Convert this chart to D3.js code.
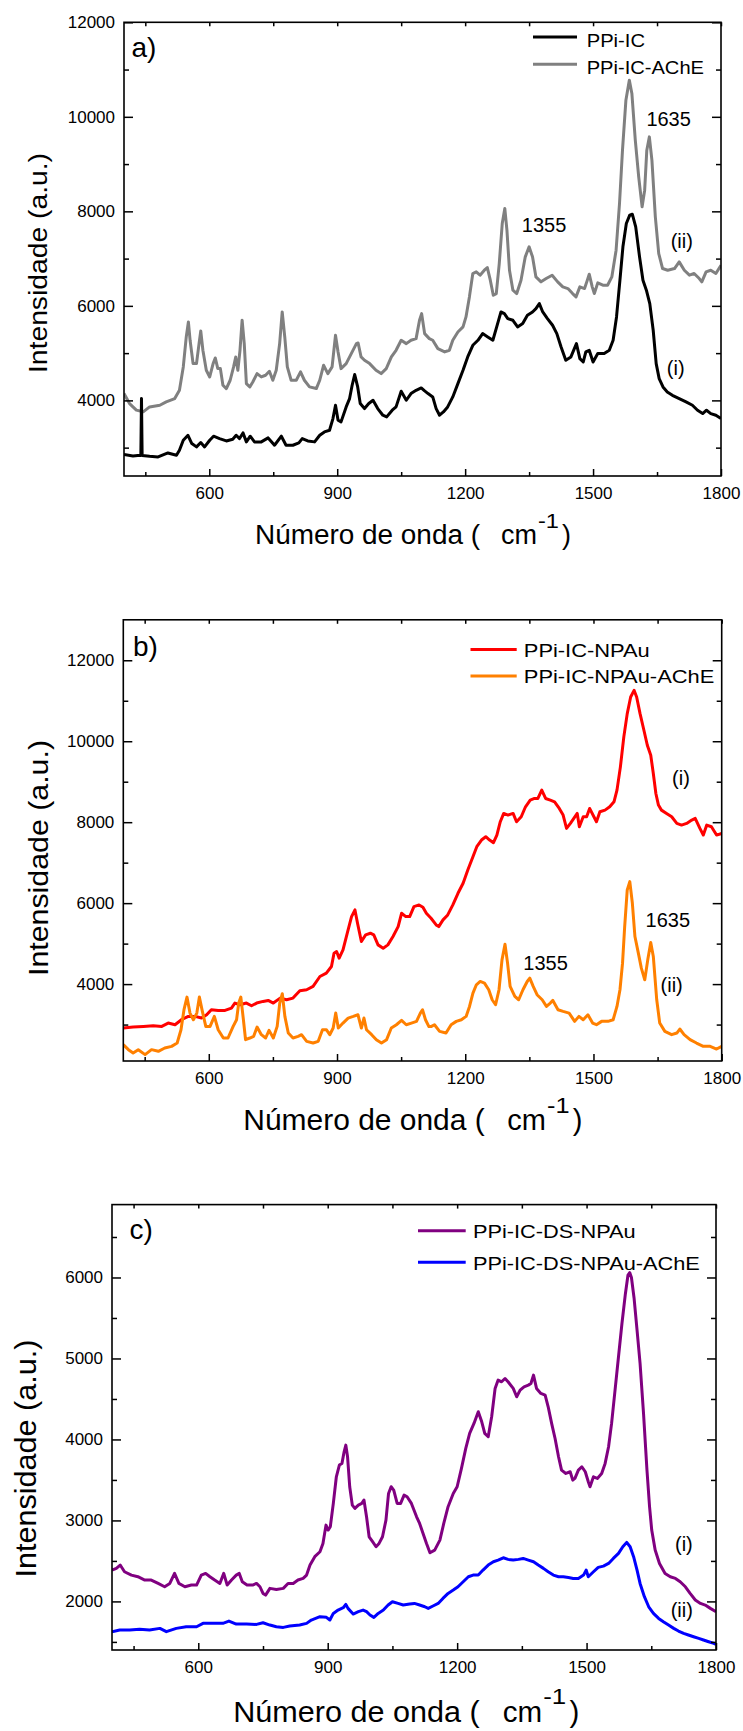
<!DOCTYPE html>
<html>
<head>
<meta charset="utf-8">
<script src="https://cdn.jsdelivr.net/npm/d3@7"></script>
<style>
  body { margin: 0; background: #fff; }
  text { font-family: "Liberation Sans", Arial, sans-serif; fill: #000; }
</style>
</head>
<body>
<div id="chart"></div>
<script>
// ---- tick labels ----
const waveTicks = [600, 900, 1200, 1500, 1800];
const waveMinor = [450, 750, 1050, 1350, 1650];
const yTicksA = [4000, 6000, 8000, 10000, 12000];
const yMinorA = [3000, 5000, 7000, 9000, 11000];
const yTicksB = [4000, 6000, 8000, 10000, 12000];
const yMinorB = [3000, 5000, 7000, 9000, 11000];
const yTicksC = [2000, 3000, 4000, 5000, 6000];
const yMinorC = [1500, 2500, 3500, 4500, 5500, 6500];

// ---- spectra [numero de onda, intensidade] ----
const ppiIC = [[400,2853],[421,2825],[438,2839],[439.5,2835],[441,4040],[442.5,2835],[460,2818],[480,2804],[503,2888],[523,2839],[530,2945],[539,3157],[550,3262],[559,3086],[570,3016],[580,3108],[589,3016],[601,3157],[610,3242],[624,3192],[640,3142],[655,3178],[663,3262],[671,3192],[679,3312],[687,3122],[696,3242],[706,3122],[722,3122],[738,3206],[753,3051],[769,3242],[780,3051],[796,3051],[810,3100],[818,3192],[831,3142],[847,3122],[859,3262],[870,3333],[882,3368],[890,3615],[896,3897],[902,3580],[909,3545],[921,3862],[929,4038],[935,4320],[941,4546],[948,4285],[954,3933],[964,3827],[974,3933],[984,4003],[995,3827],[1007,3686],[1016,3651],[1029,3792],[1038,3862],[1050,4193],[1062,4003],[1073,4144],[1085,4214],[1097,4264],[1105,4200],[1113,4144],[1124,4073],[1132,3827],[1140,3686],[1149,3756],[1159,3862],[1171,4073],[1183,4355],[1195,4637],[1206,4919],[1218,5166],[1230,5272],[1241,5413],[1253,5343],[1265,5272],[1274,5554],[1284,5871],[1292,5836],[1300,5730],[1312,5695],[1323,5554],[1335,5625],[1346,5800],[1358,5871],[1366,5942],[1374,6048],[1382,5871],[1393,5730],[1405,5589],[1415,5413],[1425,5131],[1436,4849],[1448,4919],[1461,5201],[1469,4884],[1477,4813],[1483,5025],[1491,5060],[1500,4813],[1511,4990],[1526,4990],[1538,5060],[1547,5272],[1555,5766],[1563,6543],[1570,7249],[1578,7742],[1586,7919],[1592,7940],[1600,7672],[1609,7037],[1617,6543],[1625,6331],[1633,6048],[1641,5484],[1648,4778],[1655,4461],[1664,4285],[1674,4179],[1686,4108],[1702,4038],[1718,3968],[1733,3897],[1745,3792],[1757,3721],[1766,3792],[1776,3721],[1788,3686],[1800,3615]];

const ppiICAChE = [[400,4144],[413,3933],[429,3794],[445,3758],[460,3862],[484,3897],[499,3968],[519,4038],[530,4214],[539,4708],[546,5343],[551,5660],[555,5272],[562,4778],[570,4778],[576,5201],[580,5470],[585,5060],[593,4637],[601,4496],[609,4778],[614,4898],[620,4672],[626,4672],[632,4320],[640,4250],[649,4426],[657,4708],[662,4919],[667,4637],[672,5060],[677,5697],[682,5201],[687,4355],[695,4285],[702,4390],[712,4567],[722,4496],[732,4532],[741,4616],[749,4426],[757,4637],[765,5201],[771,5871],[777,5343],[783,4708],[792,4426],[804,4426],[814,4602],[823,4426],[835,4285],[851,4250],[859,4426],[868,4743],[878,4567],[888,4708],[896,5378],[902,5025],[909,4672],[921,4778],[933,4990],[945,5201],[949,5215],[956,4919],[964,4849],[976,4778],[991,4637],[1003,4567],[1015,4672],[1027,4919],[1038,5060],[1050,5272],[1062,5201],[1073,5272],[1085,5307],[1093,5697],[1098,5836],[1105,5413],[1116,5307],[1124,5272],[1136,5095],[1152,5025],[1163,5060],[1171,5272],[1183,5448],[1195,5554],[1202,5766],[1210,6190],[1218,6684],[1226,6719],[1235,6649],[1245,6754],[1252,6811],[1259,6543],[1266,6225],[1273,6260],[1280,6895],[1287,7742],[1293,8060],[1298,7601],[1304,6754],[1312,6331],[1321,6260],[1331,6543],[1341,7037],[1350,7249],[1358,7037],[1366,6613],[1378,6508],[1390,6578],[1404,6649],[1417,6508],[1429,6402],[1441,6366],[1452,6260],[1460,6190],[1469,6402],[1480,6366],[1486,6529],[1491,6670],[1498,6402],[1503,6260],[1511,6487],[1523,6437],[1534,6437],[1544,6613],[1554,7178],[1562,8166],[1569,9294],[1577,10353],[1585,10776],[1591,10494],[1599,9506],[1607,8730],[1615,8095],[1621,8448],[1626,9294],[1632,9576],[1638,9082],[1646,7883],[1654,7107],[1663,6790],[1675,6754],[1691,6790],[1702,6931],[1714,6754],[1726,6649],[1737,6684],[1749,6578],[1755,6508],[1765,6719],[1776,6754],[1788,6684],[1800,6860]];

const ppiICNPAu = [[400,2914],[423,2939],[447,2955],[470,2972],[490,2955],[505,3037],[521,2996],[536,3120],[552,3202],[568,3202],[583,3161],[595,3243],[606,3367],[622,3350],[638,3350],[653,3408],[661,3531],[673,3490],[688,3531],[700,3465],[712,3531],[727,3572],[739,3597],[751,3531],[767,3654],[782,3613],[797,3654],[813,3835],[829,3860],[844,3942],[860,4188],[875,4271],[887,4435],[893,4764],[899,4805],[905,4641],[914,4846],[924,5257],[934,5668],[942,5832],[948,5504],[957,5052],[967,5216],[978,5257],[986,5216],[996,4969],[1008,4887],[1019,4969],[1031,5175],[1043,5421],[1051,5750],[1061,5668],[1070,5668],[1080,5915],[1092,5956],[1101,5900],[1109,5750],[1120,5627],[1132,5463],[1138,5421],[1148,5586],[1159,5709],[1171,5956],[1183,6243],[1195,6490],[1206,6819],[1218,7148],[1227,7394],[1238,7559],[1248,7641],[1257,7559],[1266,7493],[1274,7682],[1282,8011],[1290,8216],[1300,8175],[1312,8216],[1320,8011],[1331,8134],[1341,8381],[1352,8545],[1362,8586],[1370,8586],[1379,8792],[1388,8586],[1399,8545],[1409,8504],[1420,8340],[1429,8175],[1437,7846],[1446,7970],[1454,8093],[1462,8216],[1467,7887],[1476,8134],[1484,8134],[1491,8340],[1501,8134],[1507,8011],[1515,8257],[1527,8298],[1538,8381],[1548,8504],[1555,8792],[1563,9367],[1571,10107],[1579,10682],[1587,11093],[1595,11258],[1601,11093],[1609,10682],[1618,10271],[1626,9901],[1634,9655],[1640,9203],[1646,8709],[1652,8422],[1659,8298],[1671,8216],[1683,8134],[1695,7970],[1706,7928],[1718,7970],[1730,8052],[1738,8093],[1749,7846],[1757,7682],[1765,7928],[1776,7887],[1788,7682],[1800,7723]];

const ppiICNPAuAChE = [[400,2503],[412,2380],[423,2298],[435,2380],[451,2257],[466,2380],[482,2339],[497,2421],[513,2462],[526,2544],[535,2873],[542,3367],[549,3679],[556,3284],[564,3120],[572,3284],[578,3679],[585,3325],[593,2955],[603,2955],[613,3202],[622,2873],[634,2668],[645,2668],[657,2955],[665,3120],[670,3531],[675,3679],[681,3120],[686,2627],[696,2668],[705,2709],[713,2939],[723,2750],[733,2668],[741,2857],[751,2668],[760,2955],[766,3531],[772,3761],[778,3202],[786,2791],[797,2668],[809,2709],[817,2750],[829,2586],[844,2544],[856,2586],[866,2873],[875,2873],[883,2750],[891,2914],[897,3284],[903,2914],[914,3037],[926,3161],[938,3202],[949,3243],[957,2914],[963,3161],[969,2873],[981,2750],[992,2627],[1004,2544],[1016,2627],[1027,2914],[1039,2996],[1051,3103],[1062,2996],[1074,3037],[1086,3079],[1095,3284],[1100,3367],[1107,3120],[1115,2950],[1121,2955],[1128,2996],[1140,2832],[1155,2791],[1167,2996],[1179,3079],[1191,3120],[1202,3202],[1210,3449],[1218,3777],[1226,3983],[1235,4065],[1245,4024],[1255,3860],[1263,3613],[1271,3490],[1279,3860],[1286,4599],[1293,4986],[1299,4517],[1305,3942],[1316,3695],[1325,3613],[1335,3860],[1345,4065],[1351,4147],[1359,3942],[1368,3737],[1380,3613],[1390,3449],[1399,3531],[1405,3597],[1417,3367],[1429,3325],[1443,3284],[1456,3079],[1466,3202],[1476,3120],[1487,3243],[1498,3037],[1507,2996],[1519,3079],[1534,3079],[1546,3120],[1555,3449],[1562,3860],[1568,4517],[1573,5421],[1579,6326],[1585,6531],[1591,5997],[1597,5175],[1605,4764],[1612,4394],[1620,4106],[1627,4599],[1634,5027],[1640,4682],[1648,3613],[1655,3037],[1667,2832],[1683,2750],[1695,2791],[1702,2890],[1712,2750],[1726,2627],[1741,2544],[1757,2462],[1773,2462],[1788,2396],[1800,2462]];

const ppiICDSNPAu = [[400,2387],[410,2408],[419,2449],[429,2366],[445,2325],[460,2305],[476,2264],[491,2264],[507,2222],[522,2181],[534,2222],[545,2346],[555,2222],[569,2181],[584,2202],[596,2202],[607,2325],[617,2346],[627,2305],[638,2264],[650,2222],[659,2346],[667,2202],[677,2264],[688,2325],[695,2346],[702,2243],[713,2202],[726,2202],[735,2222],[743,2181],[750,2099],[756,2078],[766,2161],[781,2148],[797,2161],[808,2222],[820,2222],[831,2264],[843,2284],[851,2325],[859,2449],[870,2552],[882,2613],[889,2716],[896,2942],[901,2881],[906,2922],[913,3210],[920,3539],[927,3683],[933,3704],[938,3848],[942,3930],[946,3786],[951,3416],[957,3189],[963,3148],[971,3189],[979,3210],[984,3251],[990,3045],[996,2798],[1004,2737],[1012,2675],[1019,2716],[1027,2798],[1035,3004],[1041,3333],[1047,3416],[1053,3375],[1061,3210],[1069,3210],[1077,3313],[1084,3292],[1094,3210],[1106,3045],[1113,2963],[1121,2840],[1129,2716],[1137,2601],[1148,2634],[1160,2757],[1169,2963],[1179,3169],[1191,3333],[1200,3416],[1210,3642],[1220,3889],[1229,4074],[1239,4198],[1249,4342],[1257,4218],[1264,4074],[1272,4033],[1280,4280],[1288,4630],[1295,4733],[1303,4712],[1311,4753],[1318,4712],[1330,4630],[1338,4527],[1346,4609],[1355,4650],[1365,4671],[1371,4691],[1377,4794],[1384,4630],[1394,4568],[1404,4547],[1411,4403],[1419,4198],[1427,4012],[1435,3786],[1442,3621],[1452,3580],[1462,3601],[1468,3498],[1473,3519],[1481,3621],[1489,3663],[1497,3601],[1504,3477],[1508,3416],[1516,3539],[1525,3519],[1535,3580],[1543,3704],[1551,3910],[1558,4198],[1566,4609],[1574,5021],[1582,5432],[1590,5800],[1596,6030],[1600,6060],[1604,6000],[1610,5750],[1617,5350],[1624,4938],[1632,4321],[1640,3621],[1646,3169],[1651,2881],[1659,2634],[1669,2469],[1682,2346],[1694,2305],[1706,2284],[1717,2243],[1729,2181],[1740,2099],[1752,2017],[1764,1975],[1775,1955],[1787,1914],[1800,1873]];

const ppiICDSNPAuAChE = [[400,1626],[418,1646],[441,1646],[464,1655],[487,1646],[511,1667],[526,1626],[549,1667],[572,1687],[596,1687],[611,1729],[634,1729],[657,1729],[671,1757],[688,1720],[712,1720],[735,1716],[750,1737],[766,1708],[781,1687],[797,1679],[812,1696],[835,1708],[851,1729],[862,1770],[882,1811],[897,1803],[905,1770],[913,1852],[924,1893],[936,1922],[942,1963],[947,1914],[959,1844],[971,1873],[982,1893],[990,1873],[998,1832],[1007,1803],[1017,1852],[1029,1893],[1040,1955],[1050,1996],[1063,1975],[1075,1955],[1090,1967],[1101,1975],[1113,1955],[1125,1934],[1133,1914],[1144,1943],[1156,1975],[1167,2037],[1179,2099],[1191,2140],[1202,2181],[1214,2243],[1226,2305],[1237,2325],[1249,2325],[1260,2387],[1272,2449],[1284,2490],[1295,2510],[1307,2539],[1318,2519],[1330,2510],[1342,2519],[1353,2531],[1365,2510],[1377,2490],[1388,2449],[1400,2408],[1411,2366],[1423,2325],[1435,2305],[1446,2305],[1458,2296],[1469,2284],[1481,2284],[1493,2325],[1499,2387],[1504,2305],[1516,2366],[1527,2420],[1539,2436],[1551,2469],[1562,2531],[1574,2593],[1584,2675],[1593,2729],[1601,2675],[1609,2552],[1617,2387],[1624,2222],[1634,2058],[1644,1934],[1655,1852],[1667,1790],[1678,1749],[1690,1708],[1702,1667],[1713,1634],[1725,1605],[1736,1585],[1748,1564],[1760,1543],[1771,1523],[1783,1502],[1795,1482],[1800,1469]];

// ---- layout of the three panels ----
const W = 743, H = 1731;
const svg = d3.select("#chart").append("svg")
  .attr("width", W).attr("height", H)
  .style("background", "#fff");
const defs = svg.append("defs");

const panels = [
  {
    id: "a", box: [124, 22.3, 721, 476], yDomain: [2400, 12000],
    yTicks: yTicksA, yMinor: yMinorA,
    series: [
      { name: "PPi-IC-AChE", data: ppiICAChE, color: "#808080" },
      { name: "PPi-IC", data: ppiIC, color: "#000000" }
    ],
    legend: { x1: 533, x2: 577, tx: 586.7, size: 18,
      rows: [[37, 47, "PPi-IC", "#000000", 58.3], [64.3, 74.3, "PPi-IC-AChE", "#808080", 117.3]] },
    label: { t: "a)", x: 131.5, y: 57 },
    notes: [["1635", 1625, 9812], ["1355", 1333, 7568], ["(ii)", 1682, 7223], ["(i)", 1673, 4535]],
    yTitle: { x: 46.5, y: 263, size: 26.5, len: 220 },
    xTitle: { x: 255, y: 544.3, size: 27, k: 1 }
  },
  {
    id: "b", box: [123.3, 619.8, 721.7, 1061], yDomain: [2100, 13000],
    yTicks: yTicksB, yMinor: yMinorB,
    series: [
      { name: "PPi-IC-NPAu", data: ppiICNPAu, color: "#ff0000" },
      { name: "PPi-IC-NPAu-AChE", data: ppiICNPAuAChE, color: "#ff8000" }
    ],
    legend: { x1: 470.5, x2: 516.7, tx: 523.8, size: 19,
      rows: [[649.5, 657, "PPi-IC-NPAu", "#ff0000", 126], [676, 683, "PPi-IC-NPAu-AChE", "#ff8000", 190.5]] },
    label: { t: "b)", x: 133, y: 656 },
    notes: [["(i)", 1684, 8922], ["1635", 1622, 5403], ["1355", 1336, 4360], ["(ii)", 1657, 3793]],
    yTitle: { x: 48, y: 858, size: 28.4, len: 236 },
    xTitle: { x: 243.3, y: 1130, size: 29, k: 1.073 }
  },
  {
    id: "c", box: [112, 1204.6, 716, 1650], yDomain: [1400, 6900],
    yTicks: yTicksC, yMinor: yMinorC,
    series: [
      { name: "PPi-IC-DS-NPAu", data: ppiICDSNPAu, color: "#800080" },
      { name: "PPi-IC-DS-NPAu-AChE", data: ppiICDSNPAuAChE, color: "#0000ff" }
    ],
    legend: { x1: 418, x2: 465.7, tx: 472.9, size: 19,
      rows: [[1230.7, 1238, "PPi-IC-DS-NPAu", "#800080", 162.8], [1262.3, 1269.7, "PPi-IC-DS-NPAu-AChE", "#0000ff", 227]] },
    label: { t: "c)", x: 129.5, y: 1239 },
    notes: [["(i)", 1705, 2625], ["(ii)", 1695, 1802]],
    yTitle: { x: 36, y: 1458.5, size: 28.6, len: 238 },
    xTitle: { x: 233.3, y: 1722, size: 29.5, k: 1.095 }
  }
];

function styleAxis(sel) {
  sel.attr("font-size", 17).attr("font-family", "Liberation Sans, Arial, sans-serif");
  sel.select(".domain").remove();
  sel.selectAll(".tick line").attr("stroke", "#000").attr("stroke-width", 1.5);
  sel.selectAll(".tick text").attr("fill", "#000");
}

function drawPanel(p) {
  const [left, top, right, bottom] = p.box;
  const x = d3.scaleLinear().domain([400, 1800]).range([left, right]);
  const y = d3.scaleLinear().domain(p.yDomain).range([bottom, top]);
  const g = svg.append("g").attr("class", "panel-" + p.id);

  defs.append("clipPath").attr("id", "clip-" + p.id)
    .append("rect").attr("x", left).attr("y", top)
    .attr("width", right - left).attr("height", bottom - top);

  const line = d3.line().x(d => x(d[0])).y(d => y(d[1]));

  p.series.forEach(s => {
    g.append("path")
      .datum(s.data)
      .attr("d", line)
      .attr("fill", "none")
      .attr("stroke", s.color)
      .attr("stroke-width", 3)
      .attr("stroke-linejoin", "round")
      .attr("clip-path", `url(#clip-${p.id})`);
  });

  // axes, ticks pointing inwards on every side
  g.append("g").attr("transform", `translate(0,${bottom})`)
    .call(d3.axisBottom(x).tickValues(waveTicks).tickSize(-7).tickSizeOuter(0).tickPadding(11).tickFormat(d3.format("d")))
    .call(styleAxis);
  g.append("g").attr("transform", `translate(0,${bottom})`)
    .call(d3.axisBottom(x).tickValues(waveMinor).tickSize(-4).tickSizeOuter(0).tickFormat(""))
    .call(styleAxis);
  g.append("g").attr("transform", `translate(0,${top})`)
    .call(d3.axisTop(x).tickValues(waveTicks.concat(waveMinor)).tickSize(-4).tickSizeOuter(0).tickFormat(""))
    .call(styleAxis);
  g.append("g").attr("transform", `translate(${left},0)`)
    .call(d3.axisLeft(y).tickValues(p.yTicks).tickSize(-9).tickSizeOuter(0).tickPadding(9).tickFormat(d3.format("d")))
    .call(styleAxis);
  g.append("g").attr("transform", `translate(${left},0)`)
    .call(d3.axisLeft(y).tickValues(p.yMinor).tickSize(-5).tickSizeOuter(0).tickFormat(""))
    .call(styleAxis);
  g.append("g").attr("transform", `translate(${right},0)`)
    .call(d3.axisRight(y).tickValues(p.yTicks).tickSize(-9).tickSizeOuter(0).tickFormat(""))
    .call(styleAxis);
  g.append("g").attr("transform", `translate(${right},0)`)
    .call(d3.axisRight(y).tickValues(p.yMinor).tickSize(-5).tickSizeOuter(0).tickFormat(""))
    .call(styleAxis);

  g.append("rect")
    .attr("x", left).attr("y", top)
    .attr("width", right - left).attr("height", bottom - top)
    .attr("fill", "none").attr("stroke", "#000").attr("stroke-width", 1.6);

  // legend
  const lg = p.legend;
  lg.rows.forEach(r => {
    g.append("line")
      .attr("x1", lg.x1).attr("x2", lg.x2).attr("y1", r[0]).attr("y2", r[0])
      .attr("stroke", r[3]).attr("stroke-width", 3);
    g.append("text")
      .attr("x", lg.tx).attr("y", r[1])
      .attr("font-size", lg.size)
      .attr("textLength", r[4]).attr("lengthAdjust", "spacingAndGlyphs")
      .text(r[2]);
  });

  g.append("text")
    .attr("x", p.label.x).attr("y", p.label.y)
    .attr("font-size", 28)
    .text(p.label.t);

  p.notes.forEach(n => {
    g.append("text")
      .attr("x", x(n[1])).attr("y", y(n[2]))
      .attr("font-size", 20)
      .text(n[0]);
  });

  // axis titles
  const yt = p.yTitle;
  g.append("text")
    .attr("transform", `translate(${yt.x},${yt.y}) rotate(-90)`)
    .attr("x", -yt.len / 2)
    .attr("font-size", yt.size)
    .attr("textLength", yt.len).attr("lengthAdjust", "spacingAndGlyphs")
    .text("Intensidade (a.u.)");

  const xt = p.xTitle, k = xt.k;
  const xg = g.append("g").attr("font-size", xt.size);
  xg.append("text").attr("x", xt.x).attr("y", xt.y)
    .attr("textLength", 225 * k).attr("lengthAdjust", "spacingAndGlyphs")
    .text("Número de onda (");
  xg.append("text").attr("x", xt.x + 246 * k).attr("y", xt.y)
    .attr("textLength", 36 * k).attr("lengthAdjust", "spacingAndGlyphs")
    .text("cm");
  xg.append("text").attr("x", xt.x + 283 * k).attr("y", xt.y - 16 * k)
    .attr("font-size", 20 * k)
    .attr("textLength", 21 * k).attr("lengthAdjust", "spacingAndGlyphs")
    .text("-1");
  xg.append("text").attr("x", xt.x + 307 * k).attr("y", xt.y)
    .text(")");
}

panels.forEach(drawPanel);
</script>
</body>
</html>
